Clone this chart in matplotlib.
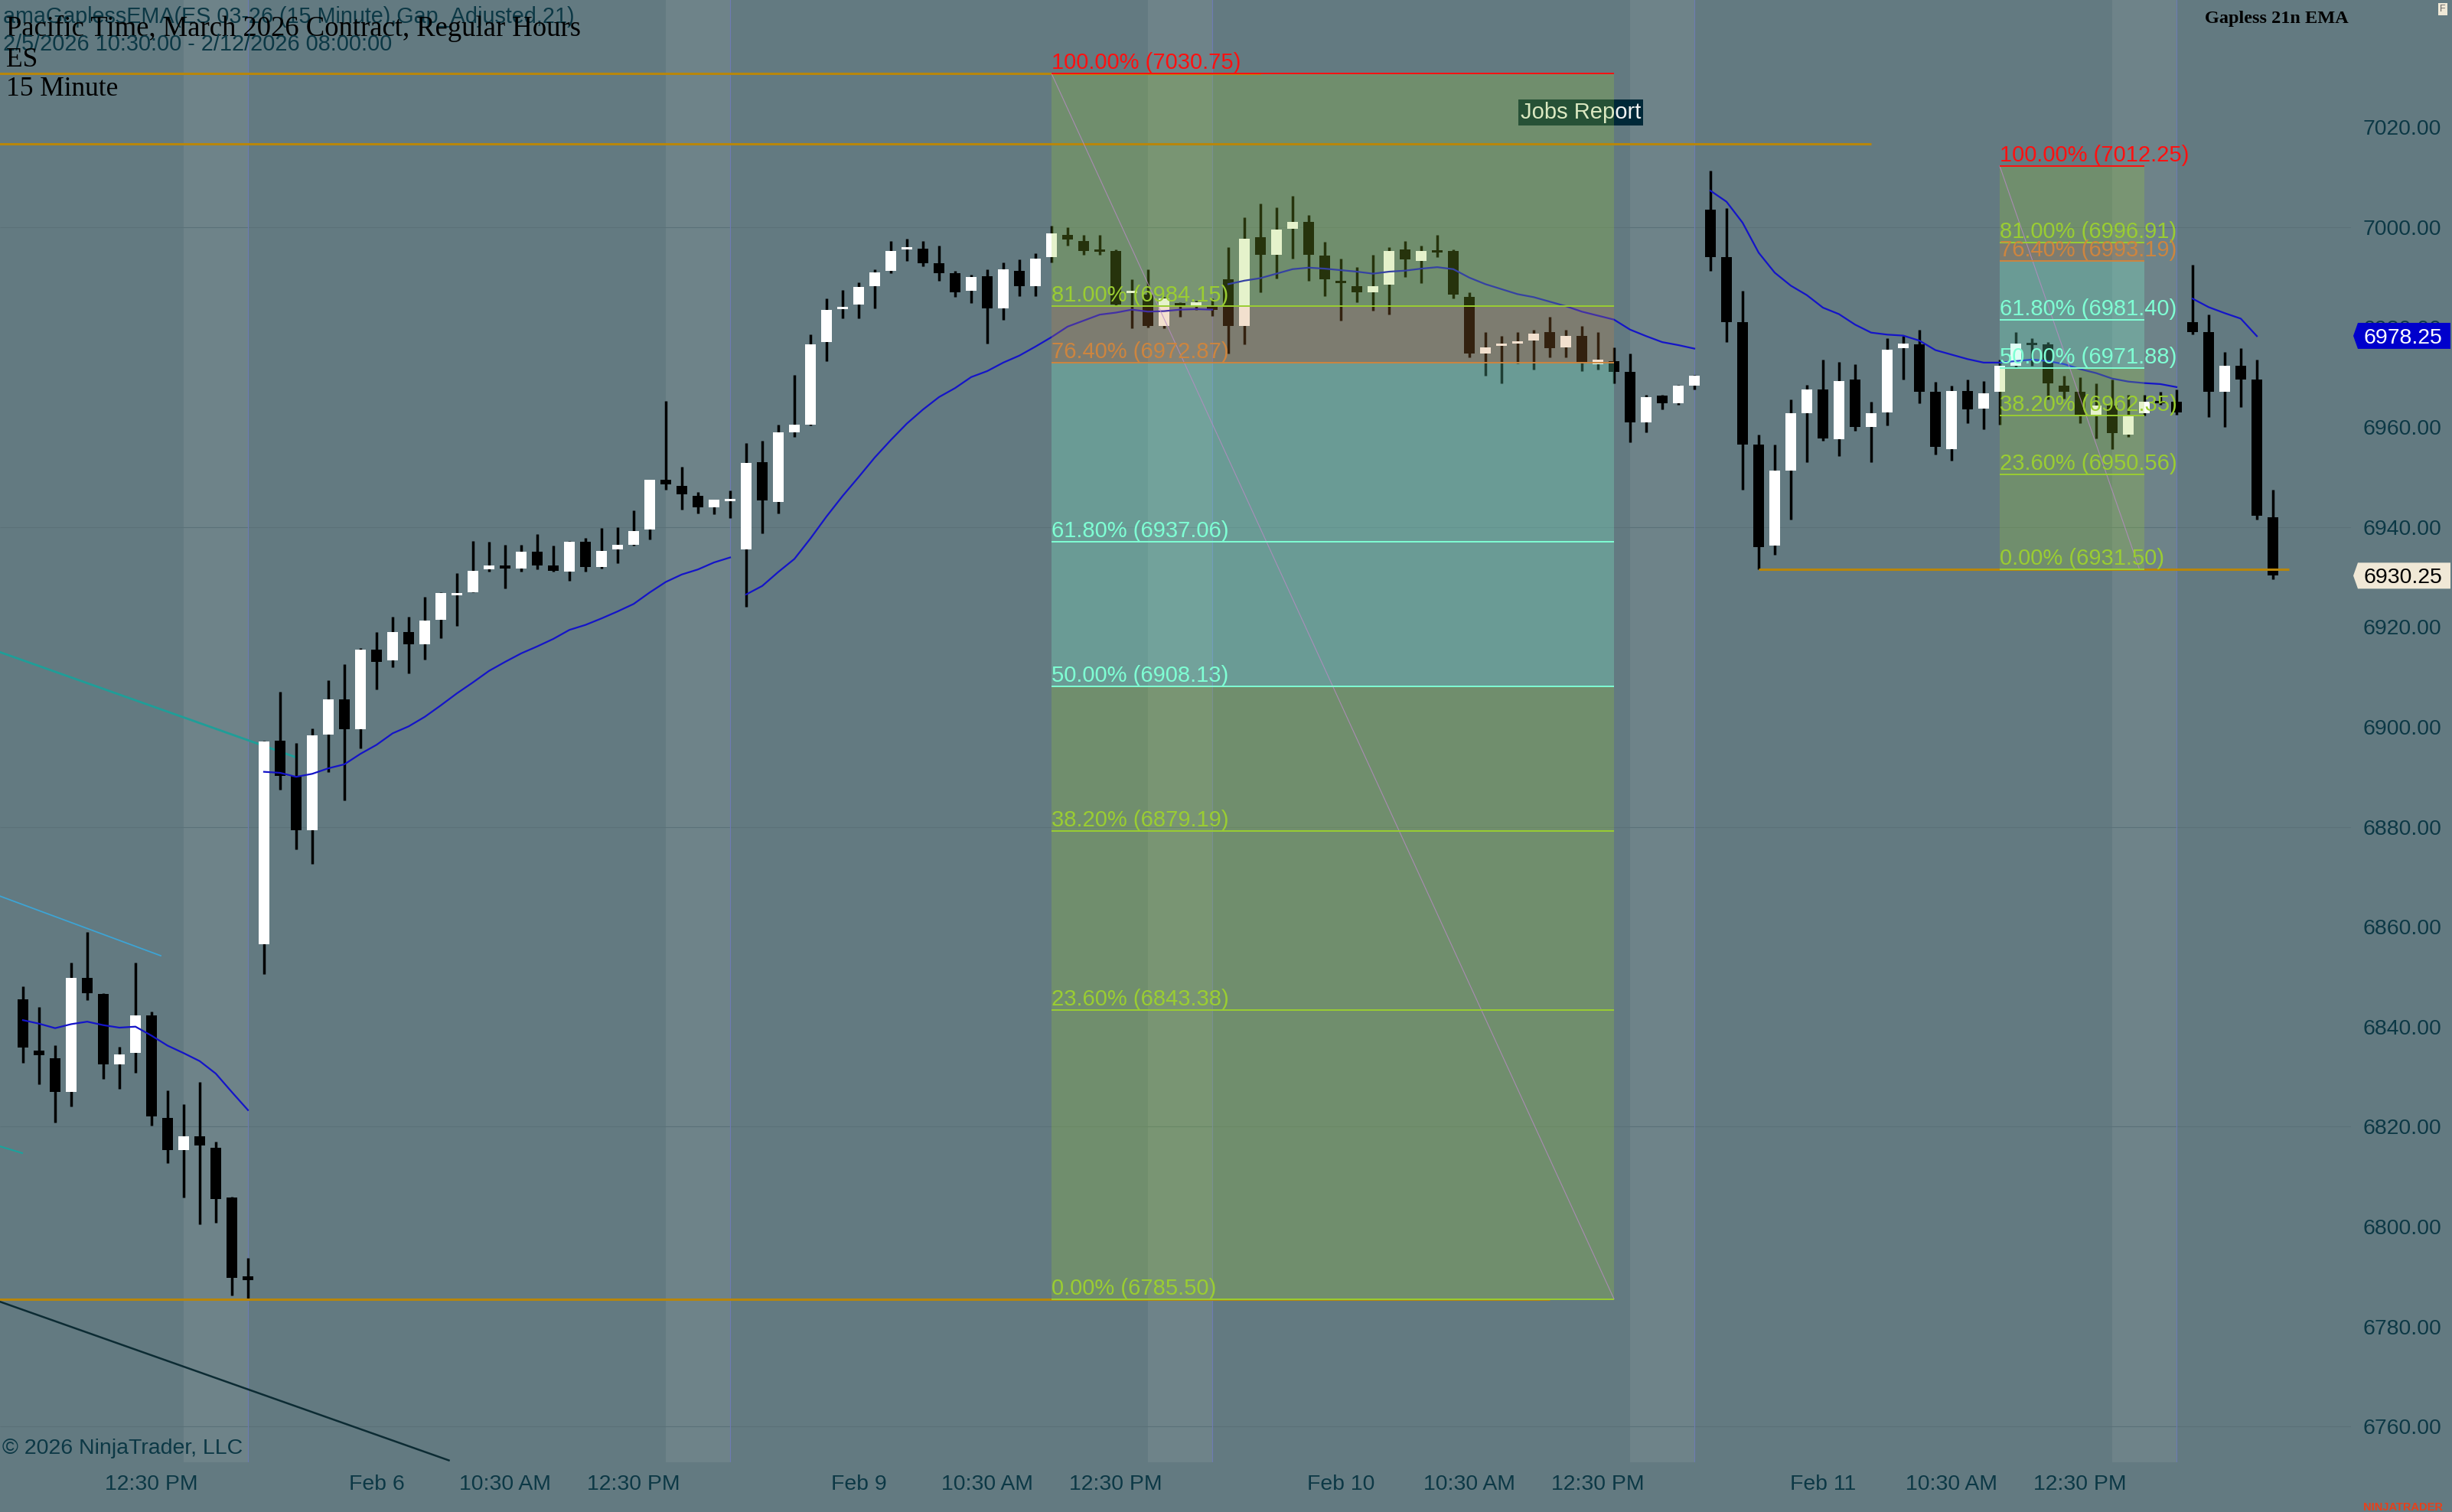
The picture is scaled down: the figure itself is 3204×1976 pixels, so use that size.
import numpy as np
import matplotlib
matplotlib.use("Agg")
import matplotlib.pyplot as plt
from matplotlib.patches import Polygon
from matplotlib.transforms import blended_transform_factory

# ES 03-26, 15 minute bars, regular hours, 2/5 10:30 -> 2/12 08:00 (bar index = x)
opens = [
    6845.5, 6835.25, 6833.75, 6827.0, 6849.75, 6846.5, 6832.5, 6834.75, 6842.25, 6821.75, 6815.25, 6818.0, 6815.75, 6805.75, 6790.0,
    6856.5, 6897.25, 6890.25, 6879.25, 6898.5, 6905.5, 6899.5, 6915.5, 6913.25, 6919.0, 6916.5, 6921.5, 6926.5, 6927.0, 6931.5,
    6932.25, 6931.75, 6935.0, 6932.25, 6931.0, 6937.0, 6932.0, 6935.5, 6936.5, 6939.5, 6949.5, 6948.25, 6946.25, 6944.0, 6945.25,
    6935.5, 6953.0, 6945.0, 6959.0, 6960.5, 6977.0, 6983.75, 6984.5, 6988.25, 6991.25, 6995.5, 6995.75, 6992.75, 6990.75, 6987.25,
    6990.25, 6983.75, 6991.25, 6988.25, 6994.0, 6998.5, 6997.25, 6995.5, 6995.25, 6986.75, 6986.5, 6980.25, 6984.75, 6984.0, 6984.25,
    6989.5, 6980.25, 6998.0, 6994.5, 6999.75, 7001.0, 6994.25, 6989.25, 6988.25, 6987.0, 6988.5, 6995.5, 6993.25, 6995.25, 6995.25,
    6986.0, 6974.75, 6976.25, 6976.75, 6977.25, 6979.0, 6976.0, 6978.25, 6972.5, 6973.25, 6971.0, 6961.0, 6966.25, 6964.75, 6968.25,
    7003.5, 6994.0, 6981.0, 6956.5, 6936.25, 6951.25, 6962.75, 6967.5, 6957.5, 6969.5, 6960.0, 6963.0, 6975.75, 6976.5, 6967.0,
    6955.5, 6967.25, 6963.75, 6967.0, 6972.25, 6976.75, 6976.5, 6968.25, 6967.0, 6962.25, 6964.25, 6958.5, 6962.75, 6965.25, 6965.0,
    6981.0, 6979.0, 6967.0, 6972.25, 6969.5, 6942.0,
]
highs = [
    6848.0, 6844.0, 6836.25, 6852.75, 6859.0, 6846.75, 6836.0, 6852.75, 6843.0, 6827.25, 6824.5, 6829.0, 6817.0, 6806.0, 6793.75,
    6897.25, 6907.0, 6896.75, 6899.75, 6909.25, 6912.5, 6915.75, 6919.0, 6922.0, 6922.0, 6926.0, 6927.0, 6930.75, 6937.25, 6937.0,
    6936.5, 6936.5, 6938.5, 6936.25, 6937.25, 6937.75, 6939.75, 6940.0, 6943.25, 6949.5, 6965.25, 6952.0, 6947.0, 6945.5, 6947.25,
    6956.75, 6957.25, 6960.5, 6970.5, 6978.5, 6985.75, 6987.5, 6989.0, 6991.5, 6997.25, 6997.75, 6997.25, 6996.25, 6991.25, 6990.5,
    6991.5, 6993.0, 6993.5, 6994.75, 7000.25, 7000.0, 6998.5, 6998.5, 6995.5, 6989.5, 6991.5, 6986.0, 6985.0, 6985.25, 6985.75,
    6996.0, 7002.0, 7004.75, 7004.0, 7006.25, 7002.5, 6997.0, 6993.75, 6992.0, 6994.5, 6996.0, 6997.25, 6996.25, 6998.5, 6995.5,
    6987.0, 6979.0, 6978.25, 6979.0, 6979.5, 6982.0, 6979.5, 6980.25, 6979.0, 6976.0, 6974.75, 6966.5, 6966.5, 6968.5, 6970.5,
    7011.25, 7003.75, 6987.25, 6958.5, 6956.5, 6965.5, 6968.5, 6973.5, 6973.0, 6972.5, 6965.0, 6977.75, 6978.25, 6979.5, 6969.0,
    6968.25, 6969.5, 6969.25, 6973.5, 6979.0, 6977.75, 6977.0, 6970.25, 6970.0, 6968.75, 6969.5, 6966.5, 6966.5, 6967.0, 6967.5,
    6992.5, 6982.5, 6975.0, 6975.75, 6973.5, 6947.5,
]
lows = [
    6832.75, 6828.5, 6820.75, 6824.0, 6845.25, 6829.5, 6827.5, 6830.75, 6820.25, 6812.75, 6805.75, 6800.5, 6800.75, 6786.25, 6785.5,
    6850.5, 6887.5, 6875.5, 6872.5, 6891.0, 6885.25, 6895.75, 6907.5, 6912.0, 6910.75, 6913.5, 6917.75, 6920.25, 6927.0, 6931.0,
    6927.75, 6931.0, 6931.5, 6931.0, 6929.25, 6931.0, 6931.75, 6932.75, 6936.25, 6937.5, 6947.5, 6943.5, 6942.75, 6942.5, 6941.75,
    6924.0, 6938.75, 6942.75, 6958.0, 6960.25, 6973.25, 6981.75, 6981.75, 6983.75, 6990.75, 6993.25, 6992.25, 6989.25, 6986.0, 6984.75,
    6976.75, 6981.5, 6986.25, 6986.25, 6993.0, 6996.25, 6994.5, 6994.5, 6984.25, 6979.75, 6980.0, 6979.75, 6982.0, 6983.5, 6982.25,
    6974.75, 6976.5, 6987.0, 6989.75, 6993.75, 6989.25, 6986.25, 6981.25, 6985.0, 6983.25, 6982.5, 6990.0, 6988.75, 6994.0, 6985.75,
    6974.0, 6970.25, 6968.75, 6972.75, 6971.5, 6974.0, 6974.0, 6971.25, 6971.5, 6968.75, 6957.0, 6959.0, 6963.5, 6964.5, 6967.5,
    6991.25, 6977.0, 6947.5, 6931.5, 6934.5, 6941.5, 6953.0, 6957.25, 6954.25, 6959.25, 6953.0, 6960.25, 6969.5, 6964.75, 6954.5,
    6953.25, 6960.75, 6959.5, 6960.5, 6972.0, 6972.25, 6965.5, 6965.75, 6960.75, 6957.75, 6955.5, 6958.0, 6962.25, 6964.5, 6962.5,
    6978.5, 6962.0, 6960.0, 6964.0, 6941.5, 6929.5,
]
closes = [
    6835.75, 6834.25, 6827.0, 6849.75, 6846.75, 6832.5, 6834.5, 6842.25, 6822.0, 6815.25, 6818.0, 6816.25, 6805.5, 6789.75, 6789.25,
    6897.0, 6890.25, 6879.25, 6898.25, 6905.5, 6899.5, 6915.5, 6913.0, 6919.0, 6916.5, 6921.25, 6926.75, 6926.75, 6931.25, 6932.25,
    6931.75, 6935.0, 6932.25, 6931.25, 6937.0, 6932.0, 6935.25, 6936.5, 6939.25, 6949.5, 6948.5, 6946.5, 6944.0, 6945.5, 6945.5,
    6952.75, 6945.25, 6959.0, 6960.5, 6976.5, 6983.5, 6984.0, 6988.0, 6991.0, 6995.25, 6996.0, 6992.75, 6990.75, 6987.0, 6990.0,
    6983.75, 6991.5, 6988.25, 6993.75, 6998.75, 6997.5, 6995.25, 6995.25, 6984.5, 6987.25, 6980.25, 6985.75, 6984.0, 6985.0, 6983.5,
    6980.25, 6997.75, 6994.5, 6999.5, 7001.0, 6994.5, 6989.5, 6988.75, 6987.0, 6988.25, 6995.25, 6993.5, 6995.25, 6995.0, 6986.5,
    6974.75, 6976.0, 6976.75, 6977.0, 6978.75, 6975.75, 6978.25, 6972.75, 6973.5, 6971.0, 6961.0, 6966.0, 6964.75, 6968.25, 6970.25,
    6994.0, 6981.0, 6956.5, 6936.0, 6951.25, 6962.75, 6967.5, 6957.75, 6969.25, 6960.0, 6962.75, 6975.5, 6976.75, 6967.0, 6956.0,
    6967.25, 6963.5, 6966.75, 6972.25, 6976.75, 6976.5, 6968.75, 6967.0, 6962.25, 6964.25, 6958.75, 6962.25, 6965.0, 6964.75, 6963.0,
    6979.0, 6967.0, 6972.25, 6969.5, 6942.25, 6930.25,
]
# Gapless 21n EMA as plotted, no value on the live bar
ema21 = [
    6841.3, 6840.6, 6839.7, 6840.5, 6841.0, 6840.3, 6839.8, 6840.0, 6838.2, 6836.2, 6834.7, 6833.1, 6830.6, 6826.9, 6823.3,
    6891.0, 6890.8, 6890.0, 6890.6, 6891.7, 6892.5, 6894.6, 6896.4, 6898.7, 6900.1, 6902.0, 6904.3, 6906.7, 6908.9, 6911.2,
    6913.0, 6914.7, 6916.1, 6917.6, 6919.4, 6920.4, 6921.7, 6923.1, 6924.6, 6926.9, 6929.0, 6930.5, 6931.5, 6932.9, 6933.9,
    6926.5, 6928.2, 6931.0, 6933.6, 6937.7, 6942.1, 6946.2, 6950.0, 6953.9, 6957.4, 6960.7, 6963.5, 6966.0, 6967.8, 6970.0,
    6971.2, 6972.9, 6974.3, 6976.1, 6978.0, 6980.1, 6981.3, 6982.5, 6982.9, 6983.5, 6983.1, 6983.2, 6983.5, 6983.6, 6983.5,
    6988.6, 6989.3, 6989.8, 6990.7, 6991.6, 6991.9, 6991.7, 6991.4, 6991.1, 6990.7, 6991.1, 6991.3, 6991.7, 6992.0, 6991.6,
    6989.9, 6988.6, 6987.6, 6986.6, 6986.0, 6985.1, 6984.2, 6983.1, 6982.3, 6981.5, 6979.5, 6978.2, 6977.0, 6976.4, 6975.7,
    7007.3, 7005.1, 7000.9, 6994.9, 6990.9, 6988.3, 6986.4, 6983.9, 6982.6, 6980.5, 6978.9, 6978.5, 6978.3, 6977.3, 6975.4,
    6974.5, 6973.6, 6972.9, 6972.9, 6973.2, 6973.5, 6973.2, 6972.6, 6971.6, 6970.8, 6969.7, 6969.1, 6968.8, 6968.6, 6968.0,
    6985.7, 6984.0, 6982.8, 6981.7, 6978.2, np.nan,
]

session_starts = [0, 15, 45, 75, 105, 135]
session_ends = [14, 44, 74, 104, 134, 140]

tick_bars = [8, 22, 30, 38, 52, 60, 68, 82, 90, 98, 112, 120, 128]
tick_labels = ["12:30 PM", "Feb 6", "10:30 AM", "12:30 PM", "Feb 9", "10:30 AM", "12:30 PM",
               "Feb 10", "10:30 AM", "12:30 PM", "Feb 11", "10:30 AM", "12:30 PM"]
price_ticks = list(range(6760, 7021, 20))
grid_levels = [6760, 6820, 6880, 6940, 7000]

# fib retracements drawn on the chart
fib_pcts = [100.0, 81.0, 76.4, 61.8, 50.0, 38.2, 23.6, 0.0]
fib_colors = ["#ff1010", "yellowgreen", "peru", "aquamarine", "aquamarine", "yellowgreen", "yellowgreen", "yellowgreen"]
fib1_span = [64, 99]
fib1_prices = [7030.75, 6984.15, 6972.87, 6937.06, 6908.13, 6879.19, 6843.38, 6785.50]
fib1_anchor = [[64, 99], [7030.75, 6785.50]]
fib2_span = [123, 132]
fib2_prices = [7012.25, 6996.91, 6993.19, 6981.40, 6971.88, 6962.35, 6950.56, 6931.50]
fib2_anchor = [[123, 131.7], [7012.25, 6931.50]]

# horizontal lines (price, from bar, to bar)
hl_prices = [7030.75, 7016.75, 6785.50, 6931.50]
hl_from = [-2, -2, -2, 108]
hl_to = [77, 115, 95, 141]

# old trend lines hanging in from the left
tl_x = [[-2, 17.0], [-2, 8.57], [-2, -0.05], [-2, 26.5]]
tl_y = [[6915.6, 6893.9], [6866.8, 6854.2], [6816.6, 6814.7], [6785.6, 6753.2]]
tl_colors = ["#1f9e98", "#3da4d4", "#1aa39c", "#0c2b33"]
tl_widths = [2.0, 1.3, 1.5, 1.8]

last_price = closes[-1]
ema_last = 6978.25

BG = "#637a81"
BAND = "#6e8389"
TEAL_TXT = "#0c3845"
SANS = ["Liberation Sans", "DejaVu Sans"]
SERIF = ["Liberation Serif", "DejaVu Serif"]

W, H = 3204, 1976
AX_RIGHT, AX_BOTTOM = 3072, 1911
BAR0_PX, BAR_PX = 30, 21
PX_PER_PT, Y7020 = 6.53, 166.3

plt.rcParams["font.family"] = SANS

fig = plt.figure(figsize=(W / 100, H / 100), dpi=100, facecolor=BG)
ax = fig.add_axes([0, 1 - AX_BOTTOM / H, AX_RIGHT / W, AX_BOTTOM / H])
ax.set_facecolor(BG)
ax.set_xlim(-BAR0_PX / BAR_PX, (AX_RIGHT - BAR0_PX) / BAR_PX)
ax.set_ylim(7020 - (AX_BOTTOM - Y7020) / PX_PER_PT, 7020 + Y7020 / PX_PER_PT)
for s in ax.spines.values():
    s.set_visible(False)

x = np.arange(len(closes))
o = np.array(opens); h = np.array(highs); l = np.array(lows); c = np.array(closes)

# session shading (last hour) and session breaks
for st, en in zip(session_starts, session_ends):
    if en - st >= 10:
        ax.axvspan(en - 4, en, color=BAND, lw=0, zorder=0.5)
        ax.axvline(en, color="#6d7bb3", lw=0.8, zorder=1)
ax.hlines(grid_levels, ax.get_xlim()[0], ax.get_xlim()[1], color="#5b7178", lw=0.8, zorder=0.8)

# Jobs report marker (sits under the fib fill)
ax.text(93.2, 7023.0, "Jobs Report", color="#f2f2f2", fontsize=21, ha="left", va="center", zorder=2,
        bbox=dict(facecolor="#002838", edgecolor="none", pad=2.0))

# left over drawing lines
for xs, ys, col, lw in zip(tl_x, tl_y, tl_colors, tl_widths):
    ax.plot(xs, ys, color=col, lw=lw, zorder=2.5)

# candles
up = c >= o
body_lo = np.minimum(o, c)
body_h = np.abs(c - o)
small = body_h < 0.45
body_lo = np.where(small, (o + c) / 2 - 0.225, body_lo)
body_h = np.where(small, 0.45, body_h)
ax.vlines(x, l, h, color="black", lw=2.5, zorder=3)
ax.bar(x, body_h, bottom=body_lo, width=0.64, color=np.where(up, "white", "black"),
       edgecolor="none", zorder=4)

# EMA, broken at every session start
for st, en in zip(session_starts, session_ends):
    ax.plot(x[st:en + 1], ema21[st:en + 1], color="#1414c8", lw=1.6, zorder=5)

# horizontal lines
for p, a, b in zip(hl_prices, hl_from, hl_to):
    ax.hlines(p, a, b, color="#b8860b", lw=2.2, zorder=6.5)


def draw_fib(span, prices, anchor):
    x0, x1 = span
    for k in range(len(prices) - 1):
        ax.fill_between([x0, x1], prices[k + 1], prices[k], color=fib_colors[k + 1],
                        alpha=0.25, lw=0, zorder=6)
    ax.plot(anchor[0], anchor[1], color="#b88cc4", lw=0.8, alpha=0.8, zorder=7)
    for pct, p, col in zip(fib_pcts, prices, fib_colors):
        ax.hlines(p, x0, x1, color=col, lw=1.4, zorder=7)
        ax.text(x0, p, f"{pct:.2f}% ({p:.2f})", color=col, fontsize=21,
                ha="left", va="bottom", zorder=9)


draw_fib(fib1_span, fib1_prices, fib1_anchor)
draw_fib(fib2_span, fib2_prices, fib2_anchor)

# axes ticks
ax.set_yticks(price_ticks)
ax.set_yticklabels([f"{p:.2f}" for p in price_ticks])
ax.yaxis.tick_right()
ax.tick_params(axis="y", length=0, pad=11.5, labelsize=20.4, labelcolor=TEAL_TXT)
ax.set_xticks(tick_bars)
ax.set_xticklabels(tick_labels)
ax.tick_params(axis="x", length=0, pad=11.5, labelsize=20.4, labelcolor=TEAL_TXT)

# price markers on the axis
blend = blended_transform_factory(ax.transAxes, ax.transData)
half = 17 / PX_PER_PT
for p, fc, tc in [(ema_last, "#0000cc", "white"), (last_price, "#f0e8d6", "black")]:
    poly = Polygon([(3075 / AX_RIGHT, p), (3081 / AX_RIGHT, p + half), (3202 / AX_RIGHT, p + half),
                    (3202 / AX_RIGHT, p - half), (3081 / AX_RIGHT, p - half)],
                   closed=True, transform=blend, facecolor=fc, edgecolor="none",
                   clip_on=False, zorder=20)
    ax.add_patch(poly)
    ax.text(3088 / AX_RIGHT, p, f"{p:.2f}", transform=blend, color=tc, fontsize=20.4,
            ha="left", va="center_baseline", clip_on=False, zorder=21)


def px(xp, yp):
    return xp / W, 1 - yp / H


fig.text(*px(4, 30), "amaGaplessEMA(ES 03-26 (15 Minute),Gap_Adjusted,21)", color=TEAL_TXT,
         fontsize=20.7, va="baseline")
fig.text(*px(8, 47), "Pacific Time, March 2026 Contract, Regular Hours", color="black",
         family=SERIF, fontsize=26.4, va="baseline")
fig.text(*px(4, 66), "2/5/2026 10:30:00 - 2/12/2026 08:00:00", color=TEAL_TXT,
         fontsize=20.8, va="baseline")
fig.text(*px(8, 87), "ES", color="black", family=SERIF, fontsize=25.5, va="baseline")
fig.text(*px(8, 125), "15 Minute", color="black", family=SERIF, fontsize=25.5, va="baseline")
fig.text(*px(3069, 30), "Gapless 21n EMA", color="black", family=SERIF, weight="bold",
         fontsize=17.5, ha="right", va="baseline")
fig.text(*px(3192, 12), "F", color="#6a6a6a", fontsize=9, ha="center", va="center",
         bbox=dict(facecolor="#efe8d6", edgecolor="none", pad=1.5))
fig.text(*px(3, 1900), "\u00a9 2026 NinjaTrader, LLC", color=TEAL_TXT, fontsize=20.5, va="baseline")
fig.text(*px(3088, 1974), "NINJATRADER", color="#e8401a", fontsize=10.5, weight="bold", va="baseline")

fig.savefig("out.png", dpi=100, facecolor=BG)
